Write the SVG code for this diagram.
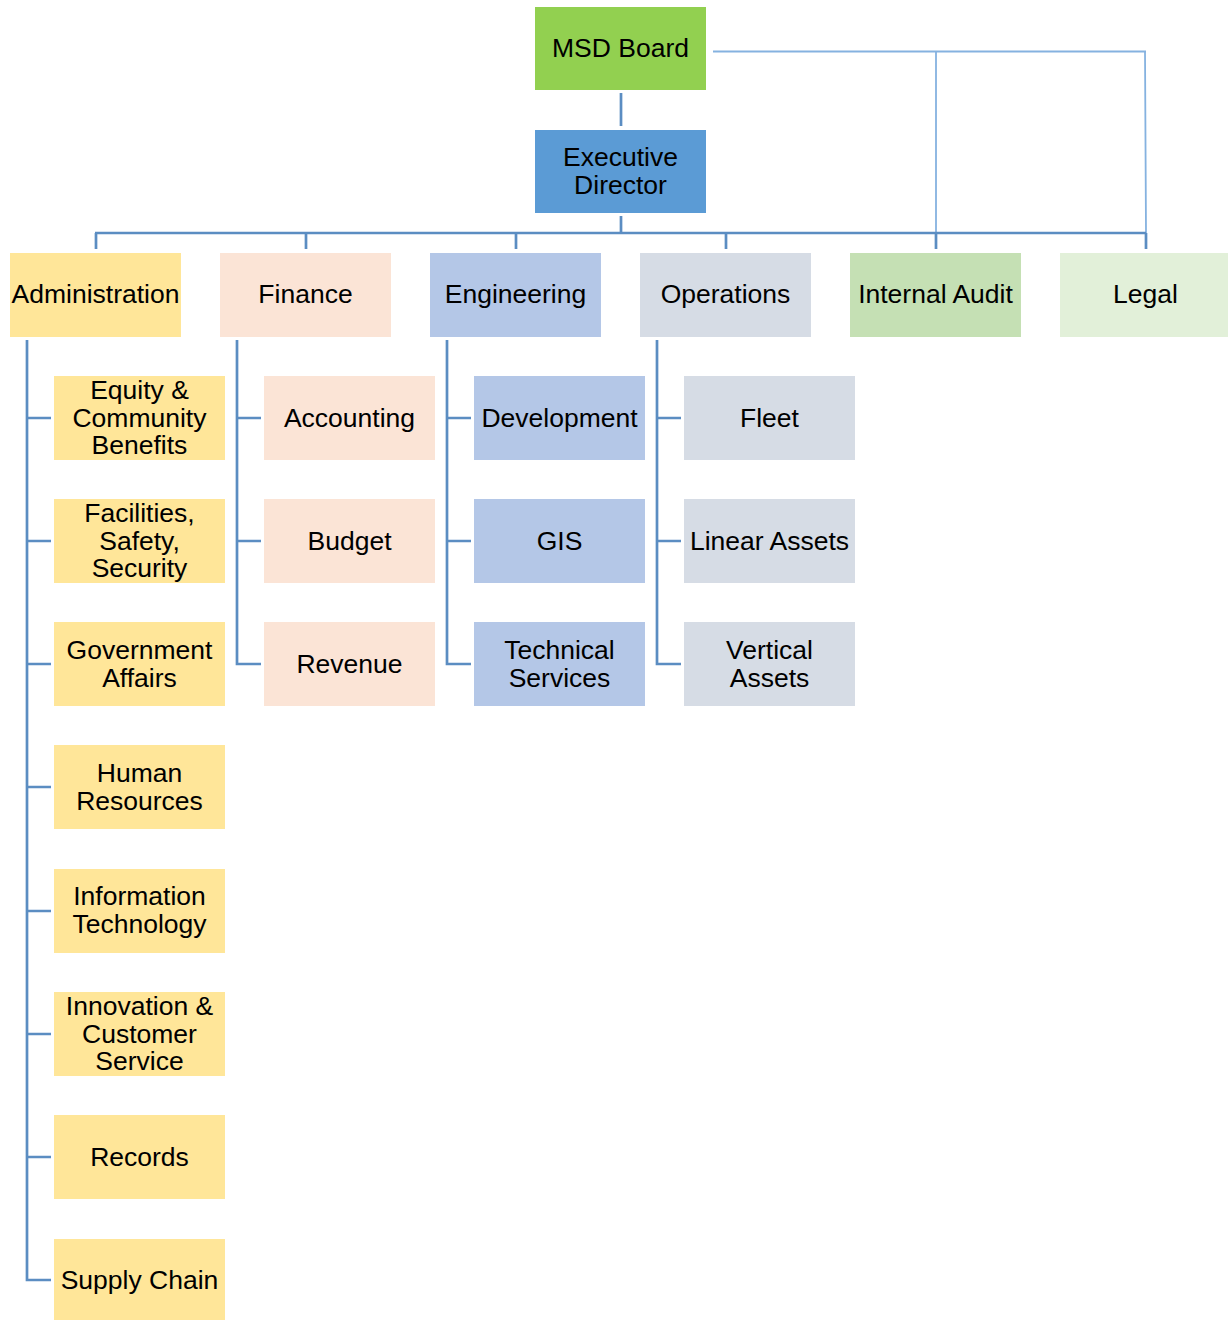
<svg xmlns="http://www.w3.org/2000/svg" width="1228" height="1320" viewBox="0 0 1228 1320">
<style>
text{font-family:"Liberation Sans",Arial,sans-serif;font-size:26.5px;fill:#000;text-anchor:middle}
.c{fill:none;stroke:#5B8DC2;stroke-width:2.7}
.t{fill:none;stroke:#85B2E0;stroke-width:1.8}
.adm{fill:#FFE699}.fin{fill:#FBE4D6}.eng{fill:#B4C7E7}.ops{fill:#D6DCE5}.aud{fill:#C5E0B4}.leg{fill:#E2F0D9}
</style>
<rect width="1228" height="1320" fill="#fff"/>
<g id="connectors">
<path class="t" d="M713 51.5H1146M936 51.5V233M1145 51.5L1146 233"/>
<path class="c" d="M621 93V126M621 216V233M95 233H1146M96 233V249M306 233V249M516 233V249M726 233V249M936 233V249M1146 233V249"/>
<path class="c" d="M27 340V1280H51M27 418H51M27 541H51M27 664H51M27 787H51M27 911H51M27 1034H51M27 1157H51"/>
<path class="c" d="M237 340V664H261M237 418H261M237 541H261"/>
<path class="c" d="M447 340V664H471M447 418H471M447 541H471"/>
<path class="c" d="M657 340V664H681M657 418H681M657 541H681"/>
</g>
<g id="msd-board"><rect x="535" y="7" width="171" height="83" fill="#92D050"/><text x="620.5" y="57">MSD Board</text></g>
<g id="executive-director"><rect x="535" y="130" width="171" height="83" fill="#5B9BD5"/><text x="620.5" y="166">Executive</text><text x="620.5" y="193.5">Director</text></g>
<g id="administration"><rect class="adm" x="10" y="253" width="171" height="84"/><text x="95.5" y="303">Administration</text></g>
<g id="finance"><rect class="fin" x="220" y="253" width="171" height="84"/><text x="305.5" y="303">Finance</text></g>
<g id="engineering"><rect class="eng" x="430" y="253" width="171" height="84"/><text x="515.5" y="303">Engineering</text></g>
<g id="operations"><rect class="ops" x="640" y="253" width="171" height="84"/><text x="725.5" y="303">Operations</text></g>
<g id="internal-audit"><rect class="aud" x="850" y="253" width="171" height="84"/><text x="935.5" y="303">Internal Audit</text></g>
<g id="legal"><rect class="leg" x="1060" y="253" width="171" height="84"/><text x="1145.5" y="303">Legal</text></g>
<g id="equity"><rect class="adm" x="54" y="376" width="171" height="84"/><text x="139.5" y="399">Equity &amp;</text><text x="139.5" y="426.5">Community</text><text x="139.5" y="454">Benefits</text></g>
<g id="facilities"><rect class="adm" x="54" y="499" width="171" height="84"/><text x="139.5" y="522">Facilities,</text><text x="139.5" y="549.5">Safety,</text><text x="139.5" y="577">Security</text></g>
<g id="government-affairs"><rect class="adm" x="54" y="622" width="171" height="84"/><text x="139.5" y="659">Government</text><text x="139.5" y="686.5">Affairs</text></g>
<g id="human-resources"><rect class="adm" x="54" y="745" width="171" height="84"/><text x="139.5" y="782">Human</text><text x="139.5" y="809.5">Resources</text></g>
<g id="information-technology"><rect class="adm" x="54" y="869" width="171" height="84"/><text x="139.5" y="905">Information</text><text x="139.5" y="932.5">Technology</text></g>
<g id="innovation"><rect class="adm" x="54" y="992" width="171" height="84"/><text x="139.5" y="1015">Innovation &amp;</text><text x="139.5" y="1042.5">Customer</text><text x="139.5" y="1070">Service</text></g>
<g id="records"><rect class="adm" x="54" y="1115" width="171" height="84"/><text x="139.5" y="1166">Records</text></g>
<g id="supply-chain"><rect class="adm" x="54" y="1239" width="171" height="81"/><text x="139.5" y="1289">Supply Chain</text></g>
<g id="accounting"><rect class="fin" x="264" y="376" width="171" height="84"/><text x="349.5" y="427">Accounting</text></g>
<g id="budget"><rect class="fin" x="264" y="499" width="171" height="84"/><text x="349.5" y="550">Budget</text></g>
<g id="revenue"><rect class="fin" x="264" y="622" width="171" height="84"/><text x="349.5" y="673">Revenue</text></g>
<g id="development"><rect class="eng" x="474" y="376" width="171" height="84"/><text x="559.5" y="427">Development</text></g>
<g id="gis"><rect class="eng" x="474" y="499" width="171" height="84"/><text x="559.5" y="550">GIS</text></g>
<g id="technical-services"><rect class="eng" x="474" y="622" width="171" height="84"/><text x="559.5" y="659">Technical</text><text x="559.5" y="686.5">Services</text></g>
<g id="fleet"><rect class="ops" x="684" y="376" width="171" height="84"/><text x="769.5" y="427">Fleet</text></g>
<g id="linear-assets"><rect class="ops" x="684" y="499" width="171" height="84"/><text x="769.5" y="550">Linear Assets</text></g>
<g id="vertical-assets"><rect class="ops" x="684" y="622" width="171" height="84"/><text x="769.5" y="659">Vertical</text><text x="769.5" y="686.5">Assets</text></g>
</svg>
